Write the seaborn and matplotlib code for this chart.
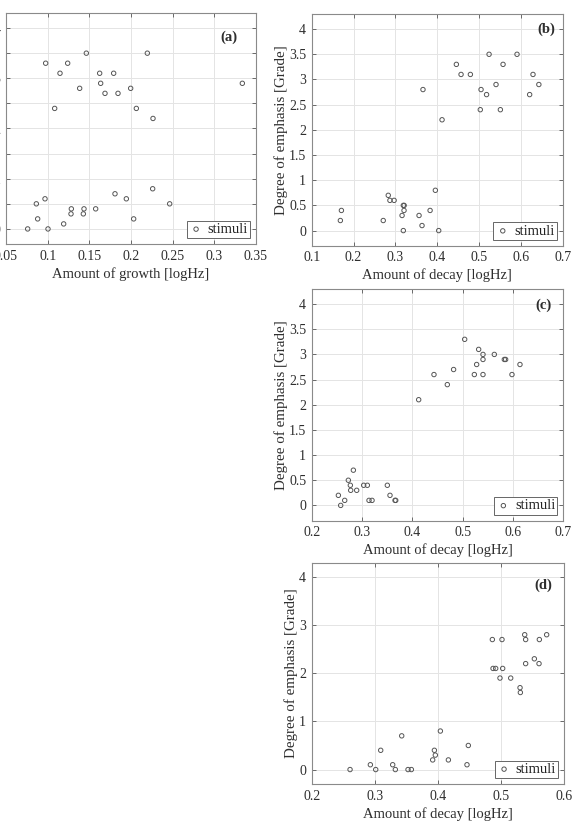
import matplotlib
matplotlib.use("Agg")
import matplotlib.pyplot as plt
import seaborn as sns
import numpy as np
import pandas as pd

# ---------------- data ----------------
growth_a = [0.0976, 0.124, 0.1464, 0.2196, 0.1148, 0.1624, 0.1792, 0.3336, 0.1636, 0.1384,
            0.1996, 0.1688, 0.1844, 0.1084, 0.2064, 0.2264, 0.226, 0.1808, 0.0968, 0.1944,
            0.0864, 0.2464, 0.1284, 0.1436, 0.1576, 0.128, 0.1428, 0.088, 0.2032, 0.1192,
            0.076, 0.1004]
grade_a = [3.3, 3.3, 3.5, 3.5, 3.1, 3.1, 3.1, 2.9, 2.9, 2.8,
           2.8, 2.7, 2.7, 2.4, 2.4, 2.2, 0.8, 0.7, 0.6, 0.6,
           0.5, 0.5, 0.4, 0.4, 0.4, 0.3, 0.3, 0.2, 0.2, 0.1,
           0.0, 0.0]

decay_b = [0.1685, 0.171, 0.271, 0.283, 0.287, 0.297, 0.319, 0.321, 0.3207, 0.316,
           0.319, 0.3566, 0.3637, 0.383, 0.3956, 0.4036, 0.366, 0.4116, 0.4458, 0.457,
           0.4793, 0.524, 0.5908, 0.5574, 0.5048, 0.5406, 0.518, 0.503, 0.551, 0.629,
           0.621, 0.643]
grade_b = [0.2, 0.4, 0.2, 0.7, 0.6, 0.6, 0.5, 0.5, 0.4, 0.3,
           0.0, 0.3, 0.1, 0.4, 0.8, 0.0, 2.8, 2.2, 3.3, 3.1,
           3.1, 3.5, 3.5, 3.3, 2.8, 2.9, 2.7, 2.4, 2.4, 3.1,
           2.7, 2.9]

decay_c = [0.253, 0.2576, 0.2656, 0.2728, 0.2768, 0.2775, 0.2828, 0.2894, 0.3033, 0.3106,
           0.3139, 0.3199, 0.3503, 0.3556, 0.3656, 0.367, 0.4126, 0.443, 0.4695, 0.482,
           0.504, 0.5232, 0.5278, 0.5318, 0.5404, 0.5404, 0.5404, 0.5629, 0.5828, 0.5854,
           0.598, 0.6139]
grade_c = [0.2, 0.0, 0.1, 0.5, 0.4, 0.3, 0.7, 0.3, 0.4, 0.4,
           0.1, 0.1, 0.4, 0.2, 0.1, 0.1, 2.1, 2.6, 2.4, 2.7,
           3.3, 2.6, 2.8, 3.1, 3.0, 2.9, 2.6, 3.0, 2.9, 2.9,
           2.6, 2.8]

decay_d = [0.2608, 0.293, 0.3015, 0.3094, 0.3284, 0.3326, 0.3427, 0.3527, 0.358, 0.3918,
           0.3945, 0.396, 0.404, 0.4167, 0.4462, 0.4483, 0.4864, 0.4875, 0.4917, 0.4985,
           0.5017, 0.5028, 0.5155, 0.5303, 0.5308, 0.5377, 0.5392, 0.5392, 0.553, 0.5609,
           0.5604, 0.5725]
grade_d = [0.0, 0.1, 0.0, 0.4, 0.1, 0.0, 0.7, 0.0, 0.0, 0.2,
           0.4, 0.3, 0.8, 0.2, 0.1, 0.5, 2.7, 2.1, 2.1, 1.9,
           2.7, 2.1, 1.9, 1.7, 1.6, 2.8, 2.7, 2.2, 2.3, 2.7,
           2.2, 2.8]

panel_labels = ["(a)", "(b)", "(c)", "(d)"]
xlabel_growth = "Amount of growth [logHz]"
xlabel_decay = "Amount of decay [logHz]"
ylabel = "Degree of emphasis [Grade]"
legend_label = "stimuli"

# ---------------- style ----------------
sns.set_theme(style="whitegrid")
plt.rcParams["font.family"] = ["Liberation Serif", "DejaVu Serif"]
plt.rcParams.update({
    "axes.edgecolor": "#8a8a8a",
    "axes.linewidth": 0.8,
    "grid.color": "#e4e4e4",
    "grid.linewidth": 0.7,
    "xtick.direction": "in",
    "ytick.direction": "in",
    "xtick.major.size": 3,
    "ytick.major.size": 3,
    "xtick.major.width": 0.6,
    "ytick.major.width": 0.6,
    "xtick.color": "#555555",
    "ytick.color": "#555555",
    "xtick.labelcolor": "#2e2e2e",
    "ytick.labelcolor": "#2e2e2e",
    "xtick.top": True,
    "ytick.right": True,
    "xtick.bottom": True,
    "ytick.left": True,
    "xtick.major.pad": 4,
    "ytick.major.pad": 4,
})

fig = plt.figure(figsize=(5.72, 8.24), dpi=100)

rects = [
    [6 / 572, 1 - 244 / 824, 250 / 572, 231 / 824],
    [311.7 / 572, 1 - 245.7 / 824, 251 / 572, 231.7 / 824],
    [311.7 / 572, 1 - 520.5 / 824, 251.6 / 572, 231.5 / 824],
    [311.7 / 572, 1 - 784 / 824, 252.3 / 572, 221.5 / 824],
]
label_pos = [(0.892, 0.897), (0.936, 0.934), (0.923, 0.931), (0.917, 0.898)]

panels = [
    (growth_a, grade_a, xlabel_growth, (0.05, 0.35), np.arange(0.05, 0.351, 0.05), np.arange(0, 4.01, 0.5)),
    (decay_b, grade_b, xlabel_decay, (0.1, 0.7), np.arange(0.1, 0.701, 0.1), np.arange(0, 4.01, 0.5)),
    (decay_c, grade_c, xlabel_decay, (0.2, 0.7), np.arange(0.2, 0.701, 0.1), np.arange(0, 4.01, 0.5)),
    (decay_d, grade_d, xlabel_decay, (0.2, 0.6), np.arange(0.2, 0.601, 0.1), np.arange(0, 4.01, 1.0)),
]

def fmt(v):
    s = f"{v:.2f}".rstrip("0").rstrip(".")
    return s

for i, (xs, ys, xl, xlim, xt, yt) in enumerate(panels):
    ax = fig.add_axes(rects[i])
    df = pd.DataFrame({"x": xs, "y": ys})
    sns.scatterplot(data=df, x="x", y="y", ax=ax, marker="o", s=10,
                    facecolor="none", edgecolor="#555555", linewidth=0.7,
                    label=legend_label)
    for c in ax.collections:
        c.set_facecolor("none")
        c.set_edgecolor("#555555")
    ax.set_xlim(*xlim)
    ax.set_ylim(-0.3, 4.3)
    ax.set_xticks(xt)
    ax.set_yticks(yt)
    ax.set_xticklabels([fmt(v) for v in xt], fontsize=10)
    ax.set_yticklabels([fmt(v) for v in yt], fontsize=10)
    ax.set_xlabel(xl, fontsize=10.5, color="#2e2e2e", labelpad=3)
    ax.set_ylabel(ylabel, fontsize=10.8, color="#2e2e2e", labelpad=0.5)
    for sp in ax.spines.values():
        sp.set_visible(True)
        sp.set_color("#8a8a8a")
        sp.set_linewidth(0.8)
    ax.grid(True, color="#e4e4e4", linewidth=0.7)
    ax.set_axisbelow(True)
    ax.text(label_pos[i][0], label_pos[i][1], panel_labels[i], transform=ax.transAxes,
            ha="center", va="center", fontsize=10.5, fontweight="bold", color="#2e2e2e")
    leg = ax.legend(loc="lower right", fontsize=10.5, frameon=True, fancybox=False,
                    handletextpad=0.3, handlelength=1.0, borderpad=0.15,
                    borderaxespad=0.4, markerscale=1.0)
    leg.get_frame().set_edgecolor("#666666")
    leg.get_frame().set_linewidth(0.7)
    leg.get_frame().set_alpha(1)
    for t in leg.get_texts():
        t.set_color("#222222")

fig.savefig("out.png", dpi=100)
